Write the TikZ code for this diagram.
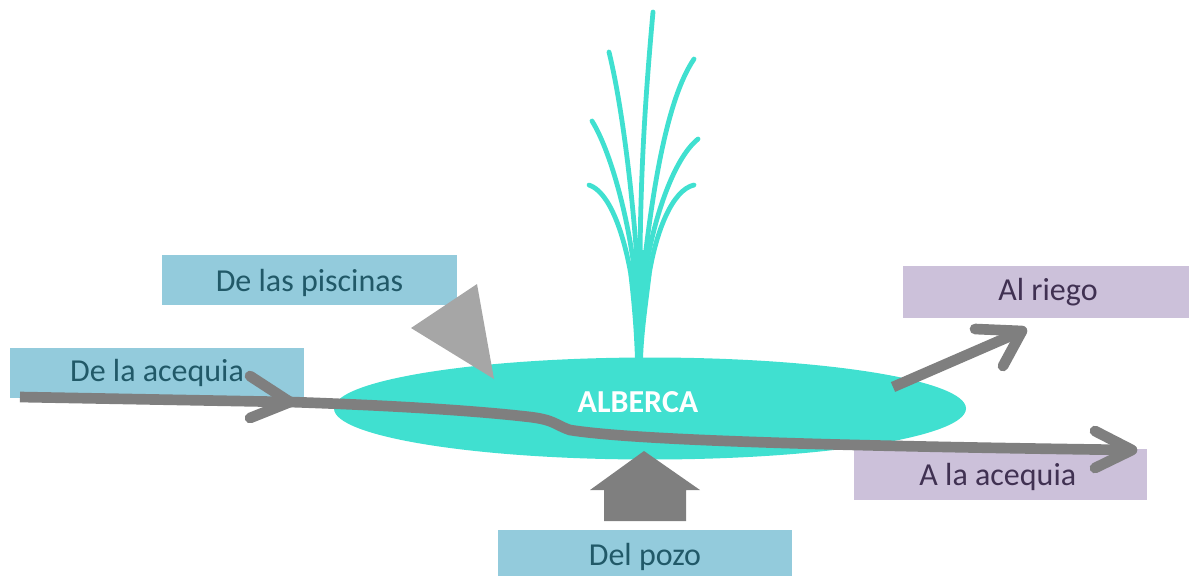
\documentclass[tikz,border=0pt]{standalone}
\usepackage{fontspec}
\usetikzlibrary{shapes.geometric}
\setmainfont{Carlito}
\definecolor{boxblue}{HTML}{93CBDC}
\definecolor{boxpurple}{HTML}{CCC1DA}
\definecolor{teal1}{HTML}{40E0D0}
\definecolor{grayline}{HTML}{7F7F7F}
\definecolor{graytri}{HTML}{A6A6A6}
\definecolor{textblue}{HTML}{215968}
\definecolor{textpurple}{HTML}{403152}
\newcommand{\lowered}[2]{\raisebox{-#1}[\height][\depth]{#2}}
\tikzset{
  px/.style={x=0.75pt,y=-0.75pt},
  bluebox/.style={fill=boxblue,text=textblue,inner sep=0pt,font=\fontsize{24}{28}\selectfont},
  purplebox/.style={fill=boxpurple,text=textpurple,inner sep=0pt,font=\fontsize{24}{28}\selectfont},
  jet/.style={draw=teal1,line width=3.6pt,line cap=round},
  flow/.style={draw=grayline,line width=8pt},
  barb/.style={draw=grayline,line width=8pt,line cap=round,line join=round},
}
\begin{document}
\begin{tikzpicture}[px]
\useasboundingbox (0,0) rectangle (1189,576);
% boxes
\node[bluebox,minimum width=221.25pt,minimum height=37.5pt] (piscinas) at (309.5,280) {\lowered{2pt}{De las piscinas}};
\node[bluebox,minimum width=220.5pt,minimum height=37.5pt] (acequiaIn) at (157,373) {De la acequia};
\node[bluebox,minimum width=220.5pt,minimum height=34.5pt] (pozo) at (645,553) {\lowered{3pt}{Del pozo}};
\node[purplebox,minimum width=214.5pt,minimum height=39pt] (riego) at (1046,292) {\hspace*{3pt}Al riego};
\node[purplebox,minimum width=219.75pt,minimum height=38.25pt] (acequiaOut) at (1000.5,474.5) {\lowered{2pt}{A la acequia}\hspace*{4pt}};
% pond
\node[ellipse,fill=teal1,minimum width=474pt,minimum height=76.5pt,inner sep=0pt] (alberca) at (650,408.5) {};
\node[text=white,font=\fontsize{24}{28}\selectfont\bfseries] (lbl) at (638,402) {ALBERCA};
% fountain
\fill[teal1] (635,358) .. controls (634,330) and (632,305) .. (628.5,275) -- (634,250) -- (646,250) -- (651.5,275)
  .. controls (648,305) and (644,330) .. (643,358) -- cycle;
\draw[jet] (640,275) .. controls (640,180) and (645,100) .. (653,12);
\draw[jet] (638,275) .. controls (633,195) and (622,105) .. (609,52);
\draw[jet] (635,275) .. controls (628,215) and (610,150) .. (592,121);
\draw[jet] (631,275) .. controls (624,235) and (610,192) .. (589,185);
\draw[jet] (643,275) .. controls (652,195) and (666,100) .. (694,59);
\draw[jet] (645,275) .. controls (652,225) and (672,160) .. (698,139);
\draw[jet] (649,275) .. controls (656,232) and (672,190) .. (694,185);
% inflow from the pools
\coordinate (triA) at (477,284);
\coordinate (triB) at (411,328);
\coordinate (triC) at (494,379);
\fill[graytri] (triA) -- (triB) -- (triC) -- cycle;
% inflow from the well
\fill[grayline] (644,451) -- (700,490) -- (686,490) -- (686,521) -- (604,521) -- (604,490) -- (590,490) -- cycle;
% main flow
\coordinate (startF) at (20,397);
\coordinate (headA) at (290,402);
\coordinate (endF) at (1132,450);
\draw[flow] (startF) -- (headA) .. controls (380,405) and (470,410) .. (530,417)
  .. controls (555,420) and (555,425) .. (570,430) .. controls (620,438) and (760,445) .. (endF);
\draw[barb] (250,376) -- (headA) -- (250,418);
\draw[barb] (1095,431) -- (endF) -- (1095,468);
% to irrigation
\coordinate (riegoS) at (893,387);
\coordinate (riegoE) at (1022,331);
\draw[flow] (riegoS) -- (riegoE);
\draw[barb] (975,329) -- (riegoE) -- (1003,366);
\end{tikzpicture}
\end{document}
